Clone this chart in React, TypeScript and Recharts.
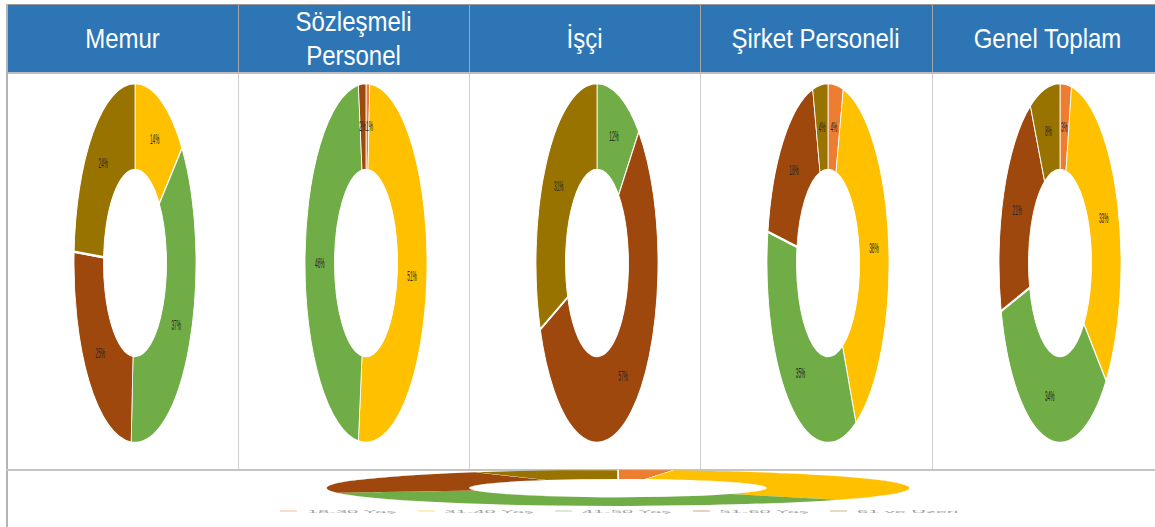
import { PieChart, Pie, Cell } from 'recharts'

// age groups and office-style colours
const categories = ['18-30 Yaş', '31-40 Yaş', '41-50 Yaş', '51-60 Yaş', '61 ve Üzeri']
const colors = ['#ED7D31', '#FFC000', '#70AD47', '#9E480E', '#997300']

const groups = ['Memur', 'Sözleşmeli Personel', 'İşçi', 'Şirket Personeli', 'Genel Toplam']

// percentages per group, same order as categories
const memur = [0, 14, 37, 25, 24]
const sozlesmeli = [1, 51, 46, 2, 0]
const isci = [0, 0, 12, 57, 31]
const sirket = [4, 38, 35, 18, 4]
const genel = [3, 33, 34, 21, 8]

const seriesByGroup = [memur, sozlesmeli, isci, sirket, genel]

const COL_LEFT = [7, 238, 469, 700, 932]
const COL_W = 231
const CY = 263
const RX = 61
const R = 180
const RADIAN = Math.PI / 180

const toData = (values: number[]) =>
  categories
    .map((name, i) => ({ name, value: values[i], color: colors[i] }))
    .filter((d) => d.value > 0)

const renderLabel = (props: any) => {
  const { cx, cy, midAngle, innerRadius, outerRadius, value } = props
  const r = (innerRadius + outerRadius) / 2
  const cos = Math.cos(-midAngle * RADIAN)
  let x = cx + r * cos
  const y = cy + r * Math.sin(-midAngle * RADIAN)
  // tiny slices next to the top: put them side by side instead of on top of each other
  let anchor: 'middle' | 'start' | 'end' = 'middle'
  if (value < 3) {
    anchor = cos < 0 ? 'end' : 'start'
    x = cx
  }
  return (
    <text
      x={x}
      y={y}
      fill="#262626"
      fontSize={14}
      fontFamily="Liberation Sans, Arial, sans-serif"
      textAnchor={anchor}
      dominantBaseline="central"
    >
      {`${value}%`}
    </text>
  )
}

function Donut({ values, cx }: { values: number[]; cx: number }) {
  const data = toData(values)
  return (
    <div
      style={{
        position: 'absolute',
        left: cx - 200,
        top: CY - 200,
        width: 400,
        height: 400,
        transform: `scaleX(${RX / R})`,
        transformOrigin: '50% 50%',
      }}
    >
      <PieChart width={400} height={400} margin={{ top: 0, right: 0, bottom: 0, left: 0 }}>
        <Pie
          data={data}
          dataKey="value"
          nameKey="name"
          cx={200}
          cy={200}
          innerRadius={93}
          outerRadius={R}
          startAngle={90}
          endAngle={-270}
          stroke="#fff"
          strokeWidth={2.5}
          label={renderLabel}
          labelLine={false}
          isAnimationActive={false}
        >
          {data.map((d) => (
            <Cell key={d.name} fill={d.color} vectorEffect="non-scaling-stroke" />
          ))}
        </Pie>
      </PieChart>
    </div>
  )
}

function BottomDonut() {
  const data = toData(genel)
  const br = 292
  return (
    <div
      style={{
        position: 'absolute',
        left: 618 - 300,
        top: 488 - 300,
        width: 600,
        height: 600,
        transform: `scaleY(${18 / br})`,
        transformOrigin: '50% 50%',
      }}
    >
      <PieChart width={600} height={600} margin={{ top: 0, right: 0, bottom: 0, left: 0 }}>
        <Pie
          data={data}
          dataKey="value"
          nameKey="name"
          cx={300}
          cy={300}
          innerRadius={148}
          outerRadius={br}
          startAngle={90}
          endAngle={-270}
          stroke="#fff"
          strokeWidth={1.5}
          isAnimationActive={false}
        >
          {data.map((d) => (
            <Cell key={d.name} fill={d.color} vectorEffect="non-scaling-stroke" />
          ))}
        </Pie>
      </PieChart>
    </div>
  )
}

export default function App() {
  return (
    <div
      style={{
        position: 'absolute',
        left: 0,
        top: 0,
        width: 1155,
        height: 527,
        overflow: 'hidden',
        background: '#fff',
        fontFamily: 'Liberation Sans, Arial, sans-serif',
      }}
    >
      {/* header band */}
      <div style={{ position: 'absolute', left: 6, top: 4, width: 1160, height: 1, background: '#9a9a9a' }} />
      <div style={{ position: 'absolute', left: 7, top: 5, width: 1160, height: 67, background: '#2E75B6' }} />
      <div style={{ position: 'absolute', left: 6, top: 72, width: 1160, height: 2, background: '#bdbdbd' }} />
      {groups.map((g, i) => (
        <div
          key={g}
          style={{
            position: 'absolute',
            left: COL_LEFT[i],
            top: 5,
            width: COL_W,
            height: 67,
            display: 'flex',
            alignItems: 'center',
            justifyContent: 'center',
          }}
        >
          <div
            style={{
              width: 200,
              color: '#fff',
              fontSize: 24,
              lineHeight: '30px',
              textAlign: 'center',
              transform: 'scaleY(1.12)',
            }}
          >
            {g}
          </div>
        </div>
      ))}
      {COL_LEFT.slice(1).map((x) => (
        <div key={`hd-${x}`} style={{ position: 'absolute', left: x, top: 5, width: 1, height: 67, background: '#a6a6a6' }} />
      ))}
      {COL_LEFT.slice(1).map((x) => (
        <div key={`bd-${x}`} style={{ position: 'absolute', left: x, top: 74, width: 1, height: 395, background: '#cfcfcf' }} />
      ))}
      {/* left border and bottom row divider */}
      <div style={{ position: 'absolute', left: 6, top: 4, width: 2, height: 523, background: '#b4b4b4' }} />
      <div style={{ position: 'absolute', left: 6, top: 469, width: 1160, height: 2, background: '#c4c4c4' }} />

      {seriesByGroup.map((values, i) => (
        <Donut key={groups[i]} values={values} cx={COL_LEFT[i] + 128} />
      ))}

      <BottomDonut />

      {/* squashed legend of the bottom chart */}
      <div style={{ position: 'absolute', left: 280, top: 501, height: 20, display: 'flex' }}>
        {categories.map((c, i) => (
          <div key={c} style={{ width: 137.5, display: 'flex', alignItems: 'center' }}>
            <div style={{ width: 17, height: 2, background: colors[i], opacity: 0.25, marginRight: 10 }} />
            <div
              style={{
                fontSize: 20,
                lineHeight: '20px',
                color: '#a0a0a0',
                whiteSpace: 'nowrap',
                transform: 'scaleY(0.22)',
                transformOrigin: '0 50%',
              }}
            >
              {c}
            </div>
          </div>
        ))}
      </div>
    </div>
  )
}
